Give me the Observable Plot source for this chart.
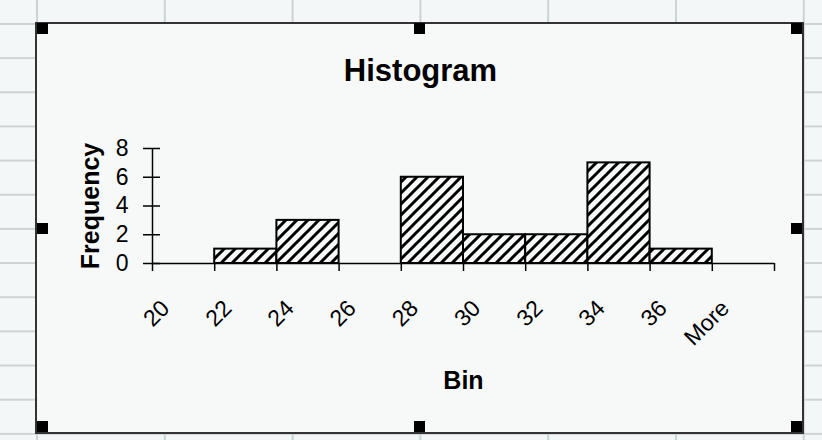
<!DOCTYPE html>
<html><head><meta charset="utf-8">
<script src="https://cdn.jsdelivr.net/npm/d3@7"></script>
<script src="https://cdn.jsdelivr.net/npm/@observablehq/plot@0.6"></script>
<style>
html,body{margin:0;padding:0;background:#f4f7f7;}
#sheet{position:relative;width:822px;height:440px;overflow:hidden;background-color:#f4f7f7;
 background-image:linear-gradient(to right,#cdd2d2 1.5px,transparent 1.5px),linear-gradient(to bottom,#cdd2d2 1.5px,transparent 1.5px);
 background-size:127.8px 34.17px;background-position:36px 23px;}
#area{position:absolute;left:35px;top:22px;width:769px;height:412px;box-sizing:border-box;border:2px solid #333;background:#f7f9f9;}
.h{position:absolute;width:11px;height:11px;background:#000;}
#plot{position:absolute;left:0;top:0;}
</style></head>
<body>
<div id="sheet">
  <div id="area"></div>
  <div class="h" style="left:37px;top:23px"></div>
  <div class="h" style="left:414px;top:23px"></div>
  <div class="h" style="left:791px;top:23px"></div>
  <div class="h" style="left:37px;top:223px"></div>
  <div class="h" style="left:791px;top:223px"></div>
  <div class="h" style="left:37px;top:421px"></div>
  <div class="h" style="left:414px;top:421px"></div>
  <div class="h" style="left:791px;top:421px"></div>
  <div id="plot"></div>
</div>
<script>
const bins = ["20","22","24","26","28","30","32","34","36","More"];
const frequency = [0,1,3,0,6,2,2,7,1,0];
const yTicks = [0,2,4,6,8];
const titleText = "Histogram";
const xTitle = "Bin";
const yTitle = "Frequency";

const data = bins.map((b,i)=>({bin:b, i, f:frequency[i]}));
const font = "'Liberation Sans', Arial, sans-serif";

const chart = Plot.plot({
  width: 822, height: 440,
  marginLeft: 152, marginRight: 48, marginTop: 148, marginBottom: 177,
  style: {background: "transparent", fontFamily: font, color: "black"},
  x: {domain: [0, bins.length]},
  y: {domain: [0, 8]},
  marks: [
    Plot.rectY(data.filter(d=>d.f>0), {x1: d=>d.i, x2: d=>d.i+1, y: "f", fill: "url(#hatch)", stroke: "black", strokeWidth: 2}),
    Plot.ruleY([0], {stroke: "black", strokeWidth: 1.5}),
    Plot.ruleX([0], {stroke: "black", strokeWidth: 1.5}),
    Plot.axisX({ticks: d3.range(0, bins.length+1), tickSize: 8, tickFormat: () => "", label: null, strokeWidth: 1.5}),
    Plot.axisY({ticks: yTicks, tickSize: 17, dx: 8, tickFormat: () => "", label: null, strokeWidth: 1.5}),
    Plot.axisY({ticks: yTicks, tickSize: 0, tickPadding: 24, label: null, fontSize: 23}),
    Plot.text(data, {x: d=>d.i+0.5, text: "bin", frameAnchor: "bottom", rotate: -45, textAnchor: "end", lineAnchor: "middle", dx: -18, dy: 41, fontSize: 23}),
    Plot.text([titleText], {frameAnchor: "top", dx: -43, dy: -68, lineAnchor: "bottom", fontSize: 31, fontWeight: "bold"}),
    Plot.text([xTitle], {frameAnchor: "bottom", dy: 125, lineAnchor: "bottom", fontSize: 25, fontWeight: "bold"}),
    Plot.text([yTitle], {frameAnchor: "left", rotate: -90, dx: -54, textAnchor: "middle", lineAnchor: "bottom", fontSize: 25, fontWeight: "bold"})
  ]
});

const defs = d3.select(chart).insert("defs", ":first-child");
const p = defs.append("pattern").attr("id","hatch").attr("patternUnits","userSpaceOnUse").attr("width",11).attr("height",11);
p.append("rect").attr("width",11).attr("height",11).attr("fill","#f7f9f9");
p.append("path").attr("d","M-1,1 L1,-1 M0,11 L11,0 M10,12 L12,10").attr("stroke","black").attr("stroke-width",3);

document.getElementById("plot").appendChild(chart);
</script>
</body></html>
